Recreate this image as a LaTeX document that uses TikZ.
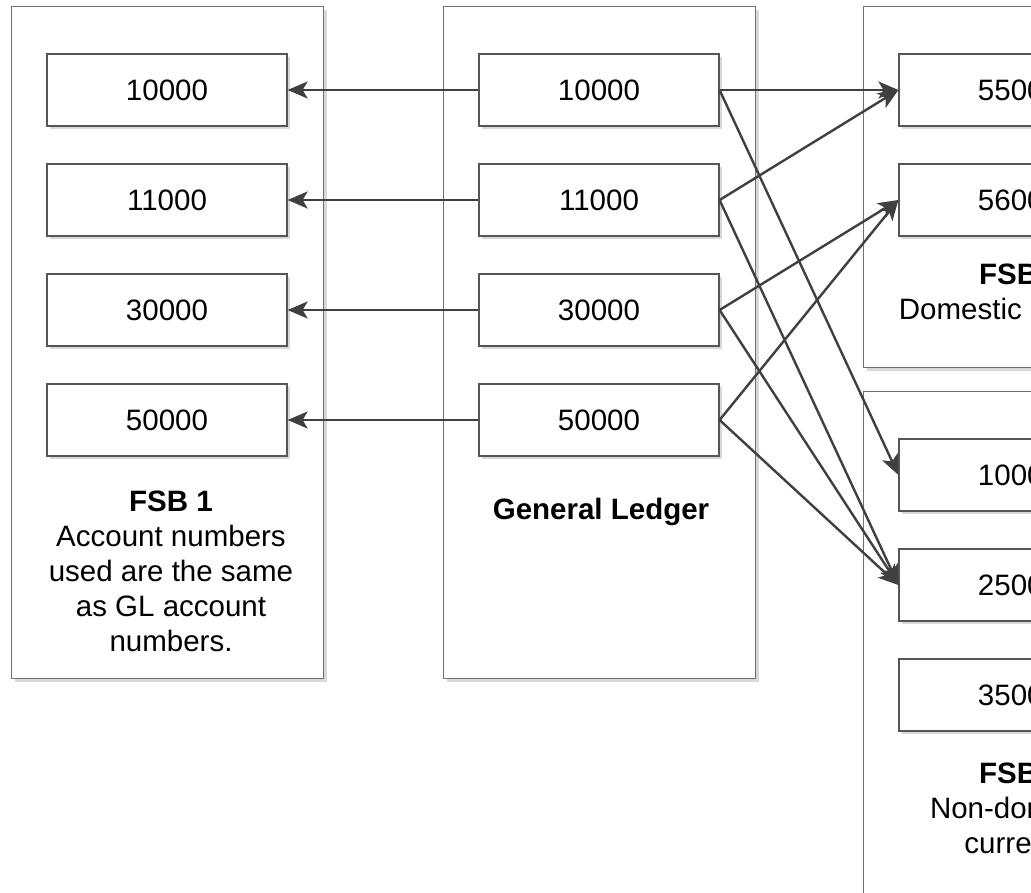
\documentclass[tikz,border=0pt]{standalone}
\usepackage{fontspec}
\setmainfont{Liberation Sans}
\usetikzlibrary{arrows.meta,shadows}
\definecolor{wire}{HTML}{404040}
\definecolor{frame}{HTML}{707070}
\definecolor{cell}{HTML}{555555}
\definecolor{shade}{HTML}{D8D8D8}
\begin{document}
\begin{tikzpicture}[x=1pt,y=-1pt,
  every node/.style={font=\fontsize{29.5}{35}\selectfont},
  softshadow/.style={drop shadow={shadow xshift=3pt,shadow yshift=-3pt,fill=shade,opacity=1}},
  panel/.style={rectangle,draw=frame,line width=1.2pt,fill=white,inner sep=0pt,
    anchor=north west,minimum width=312pt,softshadow},
  acct/.style={rectangle,draw=cell,line width=1.2pt,fill=white,inner sep=0pt,
    minimum width=240pt,minimum height=72pt,softshadow},
  caption/.style={align=center,inner sep=0pt},
  link/.style={draw=wire,line width=2.4pt,-{Stealth[length=20pt,width=17pt,inset=5pt]}}
]
\useasboundingbox (0,0) rectangle (1031,892);
\clip (0,0) rectangle (1031,892);

% containers
\node[panel,minimum height=672pt] (fsb1) at (11,6) {};
\node[panel,minimum height=672pt] (gl) at (443,6) {};
\node[panel,minimum height=361pt] (fsb2) at (863,6) {};
\node[panel,minimum height=512pt] (fsb3) at (863,391) {};

% account boxes: FSB 1 and General Ledger
\foreach \k/\y/\t in {1/90/10000,2/200/11000,3/310/30000,4/420/50000}{
  \node[acct] (a\k) at (167,\y) {\t};
  \node[acct] (g\k) at (599,\y) {\t};
}
% account boxes: FSB 2
\node[acct] (d1) at (1019,90) {55000};
\node[acct] (d2) at (1019,200) {56000};
% account boxes: FSB 3
\node[acct] (n1) at (1019,475) {10000};
\node[acct] (n2) at (1019,585) {25000};
\node[acct] (n3) at (1019,695) {35000};

% container captions
\node[caption] (fsb1text) at (171,571)
  {\textbf{FSB 1}\\Account numbers\\used are the same\\as GL account\\numbers.};
\node[caption] (gltext) at (601,512) {\textbf{General Ledger}};
\node[caption] (fsb2text) at (1021,295) {\textbf{FSB 2}\\Domestic currency};
\node[caption] (fsb3text) at (1021,811) {\textbf{FSB 3}\\Non-domestic\\currency};

% General Ledger -> FSB 1
\foreach \k in {1,...,4}{
  \draw[link] (g\k.west) -- (a\k.east);
}
% General Ledger -> FSB 2 / FSB 3
\draw[link] (g1.east) -- (d1.west);
\draw[link] (g1.east) -- (n1.west);
\draw[link] (g2.east) -- (d1.west);
\draw[link] (g2.east) -- (n2.west);
\draw[link] (g3.east) -- (d2.west);
\draw[link] (g3.east) -- (n2.west);
\draw[link] (g4.east) -- (d2.west);
\draw[link] (g4.east) -- (n2.west);
\end{tikzpicture}
\end{document}
